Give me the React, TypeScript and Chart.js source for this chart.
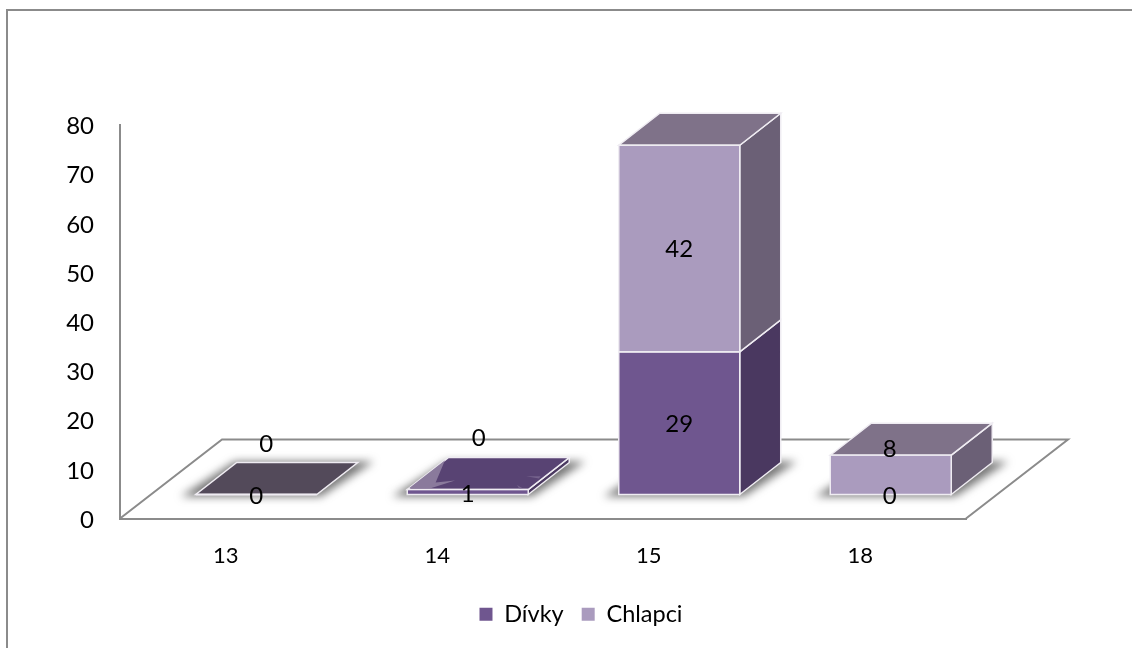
import React, { useEffect, useRef } from "react";
import { Chart, registerables } from "chart.js";

Chart.register(...registerables);

const categories = ["13", "14", "15", "18"];
const divky = [0, 1, 29, 0];
const chlapci = [0, 0, 42, 8];
const seriesNames = ["Dívky", "Chlapci"];

const FONT = "Lato";
const INK = "#000000";
const RULE = "#8b8b8b";
const EDGE = "#efecf2";

const faces = [
  { front: "#6f568f", side: "#4a3860", top: "#584373" },
  { front: "#aa9bbe", side: "#6b6076", top: "#7f7289" },
];
const flatTop = "#534a5a";

// Offset of a bar's front face from the axis plane, and the box depth.
const SHIFT = { x: 30.5, y: -24 };
const DEPTH = { x: 41, y: -32 };
// Depth of the floor behind the horizontal axis.
const FLOOR = { x: 102, y: -79 };

// Hand-placed value labels, as [dataset, category, dx, dy] from the segment centre.
const labelNudges: [number, number, number, number][] = [
  [0, 0, 0, 2],
  [0, 1, 0, 2],
  [0, 2, 0, 1],
  [0, 3, -1, 2],
  [1, 0, 10, -50],
  [1, 1, 11, -51],
  [1, 2, 0, 1],
  [1, 3, -1, -26],
];

type Pt = [number, number];

function poly(ctx: CanvasRenderingContext2D, pts: Pt[]) {
  ctx.beginPath();
  pts.forEach(([x, y], i) => (i ? ctx.lineTo(x, y) : ctx.moveTo(x, y)));
  ctx.closePath();
}

function boxGeometry(el: any) {
  const left = el.x - el.width / 2 + SHIFT.x;
  const right = el.x + el.width / 2 + SHIFT.x;
  const top = el.y + SHIFT.y;
  const bottom = el.base + SHIFT.y;
  return { left, right, top, bottom };
}

const box3d = {
  id: "box3d",
  beforeDraw(chart: any) {
    const { ctx, width } = chart;
    ctx.save();
    ctx.strokeStyle = RULE;
    ctx.lineWidth = 2;
    ctx.beginPath();
    ctx.moveTo(7, chart.height);
    ctx.lineTo(7, 10);
    ctx.lineTo(width, 10);
    ctx.stroke();
    ctx.restore();
  },
  beforeDatasetsDraw(chart: any) {
    const { ctx, chartArea: a } = chart;
    const y0 = a.bottom;

    // Floor behind the axis line
    ctx.save();
    ctx.strokeStyle = RULE;
    ctx.lineWidth = 2;
    ctx.beginPath();
    ctx.moveTo(a.left, y0);
    ctx.lineTo(a.left + FLOOR.x, y0 + FLOOR.y);
    ctx.lineTo(a.right + FLOOR.x, y0 + FLOOR.y);
    ctx.lineTo(a.right, y0);
    ctx.stroke();
    ctx.restore();

    const meta0 = chart.getDatasetMeta(0).data;
    const meta1 = chart.getDatasetMeta(1).data;

    // Soft contact shadows on the floor
    ctx.save();
    ctx.filter = "blur(4px)";
    ctx.fillStyle = "rgba(85,85,85,0.8)";
    meta0.forEach((el: any) => {
      const { left, right, bottom } = boxGeometry(el);
      poly(ctx, [
        [left - 15, bottom + 2],
        [right + 4, bottom + 2],
        [right + DEPTH.x + 16, bottom + DEPTH.y - 1],
        [left + DEPTH.x - 2, bottom + DEPTH.y - 1],
      ]);
      ctx.fill();
    });
    ctx.restore();

    // Side and top faces of each stacked segment
    categories.forEach((_, i) => {
      const parts = [meta0[i], meta1[i]];
      const values = [divky[i], chlapci[i]];
      const total = values[0] + values[1];
      ctx.save();
      ctx.lineWidth = 1.5;
      ctx.strokeStyle = EDGE;
      parts.forEach((el: any, d: number) => {
        if (values[d] === 0) return;
        const { right, top, bottom } = boxGeometry(el);
        poly(ctx, [
          [right, bottom],
          [right + DEPTH.x, bottom + DEPTH.y],
          [right + DEPTH.x, top + DEPTH.y],
          [right, top],
        ]);
        ctx.fillStyle = faces[d].side;
        ctx.fill();
        ctx.stroke();
      });
      const topIndex = values[1] > 0 ? 1 : 0;
      const { left, right, top } = boxGeometry(parts[topIndex]);
      const w = right - left;
      poly(ctx, [
        [left, top],
        [right, top],
        [right + DEPTH.x, top + DEPTH.y],
        [left + DEPTH.x, top + DEPTH.y],
      ]);
      ctx.fillStyle = total === 0 ? flatTop : faces[topIndex].top;
      ctx.fill();
      ctx.stroke();

      // An empty segment resting on a filled one leaves pale slivers on the lid
      if (total > 0 && values[1] === 0) {
        const at = (u: number, v: number): Pt => [
          left + u * w + v * DEPTH.x,
          top + v * DEPTH.y,
        ];
        ctx.fillStyle = "#8a7a9c";
        poly(ctx, [at(0, 0.05), at(0, 0.92), at(0.16, 0.22), at(0.3, 0.28), at(0.18, 0.04)]);
        ctx.fill();
        ctx.fillStyle = "#75628c";
        poly(ctx, [at(0.84, 0.42), at(0.96, 0.42), at(0.97, 0.35)]);
        ctx.fill();
        poly(ctx, [at(0.86, 0.14), at(0.92, 0.02), at(0.94, 0.04)]);
        ctx.fill();
      }
      ctx.restore();
    });

    // Front faces go through the bar controller, moved onto the raised plane
    ctx.save();
    ctx.translate(SHIFT.x, SHIFT.y);
  },
  afterDatasetsDraw(chart: any) {
    const { ctx } = chart;
    ctx.restore();

    const metas = [chart.getDatasetMeta(0).data, chart.getDatasetMeta(1).data];
    const values = [divky, chlapci];

    // Outline the front faces
    ctx.save();
    ctx.strokeStyle = EDGE;
    ctx.lineWidth = 1.5;
    metas.forEach((meta: any[], d: number) =>
      meta.forEach((el: any, i: number) => {
        if (values[d][i] === 0 && divky[i] + chlapci[i] > 0) return;
        const { left, right, top, bottom } = boxGeometry(el);
        ctx.strokeRect(left, top, right - left, bottom - top);
      })
    );
    ctx.restore();

    // Value labels
    ctx.save();
    ctx.fillStyle = INK;
    ctx.font = `24px ${FONT}`;
    ctx.textAlign = "center";
    ctx.textBaseline = "middle";
    metas.forEach((meta: any[], d: number) =>
      meta.forEach((el: any, i: number) => {
        const { left, right, top, bottom } = boxGeometry(el);
        const nudge = labelNudges.find((n) => n[0] === d && n[1] === i);
        const dx = nudge ? nudge[2] : 0;
        const dy = nudge ? nudge[3] : 0;
        ctx.fillText(String(values[d][i]), (left + right) / 2 + dx, (top + bottom) / 2 + dy);
      })
    );
    ctx.restore();
  },
  afterLayout(chart: any) {
    // Centre the legend under the whole floor instead of the axis span
    chart.legend.left = 30;
    chart.legend.right = chart.width;
  },
};

export default function App() {
  const ref = useRef<HTMLCanvasElement>(null);

  useEffect(() => {
    const chart = new Chart(ref.current as HTMLCanvasElement, {
      type: "bar",
      data: {
        labels: categories,
        datasets: [
          { label: seriesNames[0], data: divky, backgroundColor: faces[0].front, borderWidth: 0, stack: "s" },
          { label: seriesNames[1], data: chlapci, backgroundColor: faces[1].front, borderWidth: 0, stack: "s" },
        ],
      },
      options: {
        responsive: false,
        animation: false,
        layout: { padding: { left: 0, right: 166, top: 125, bottom: 12 } },
        datasets: { bar: { categoryPercentage: 1, barPercentage: 0.572 } },
        scales: {
          x: {
            stacked: true,
            grid: { display: false, drawTicks: false },
            border: { display: true, color: RULE, width: 2 },
            ticks: { color: INK, font: { family: FONT, size: 22 }, padding: 24, maxRotation: 0 },
            afterFit(scale: any) {
              scale.height = 66;
            },
          },
          y: {
            stacked: true,
            min: 0,
            max: 80,
            grid: { display: false, drawTicks: false },
            border: { display: true, color: RULE, width: 2 },
            ticks: { color: INK, font: { family: FONT, size: 24 }, stepSize: 10, padding: 26, labelOffset: 1.5 },
            afterFit(scale: any) {
              scale.width = 120;
            },
          },
        },
        plugins: {
          tooltip: { enabled: false },
          legend: {
            position: "bottom",
            labels: { color: INK, font: { family: FONT, size: 23.5 }, boxWidth: 13, boxHeight: 13, padding: 18 },
          },
        },
      },
      plugins: [box3d],
    } as any);
    return () => chart.destroy();
  }, []);

  return (
    <div style={{ position: "absolute", left: 0, top: 0, width: 1132, height: 648, background: "#fff" }}>
      <canvas ref={ref} width={1132} height={648} style={{ display: "block" }} />
    </div>
  );
}
